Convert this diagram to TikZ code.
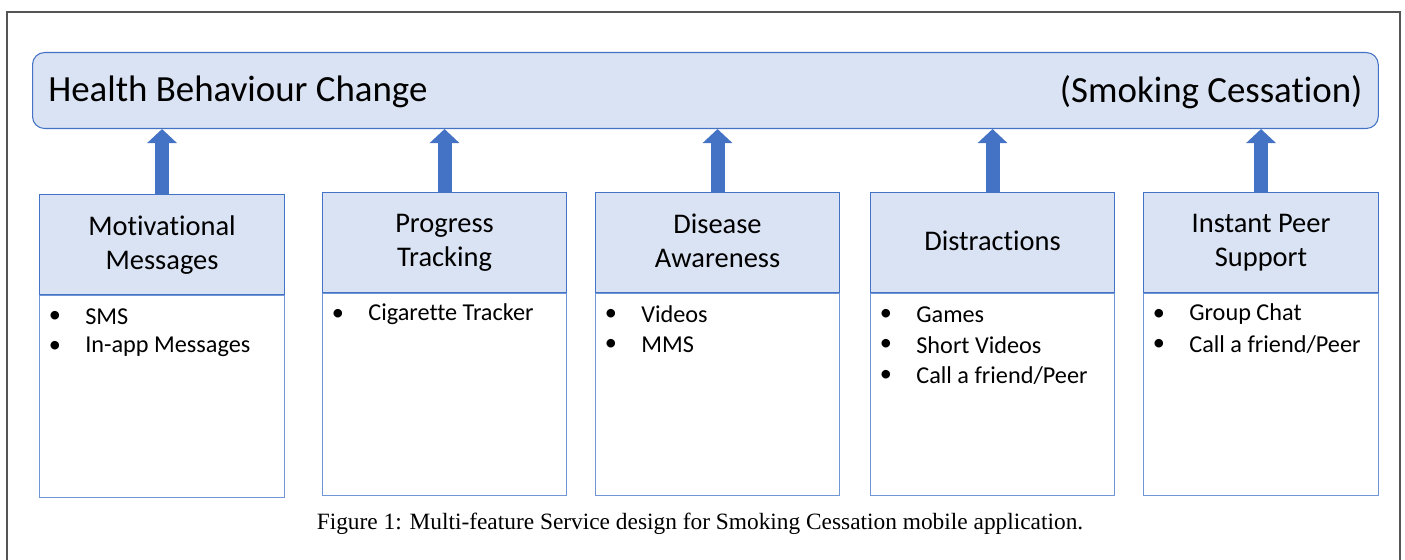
\documentclass[tikz,border=0pt]{standalone}
\usepackage{fontspec}
\setmainfont{Carlito}[Ligatures=NoCommon]
\newfontfamily\capfont{Liberation Serif}
\usetikzlibrary{arrows.meta,positioning}

\definecolor{boxfill}{HTML}{DAE3F3}
\definecolor{boxline}{HTML}{4472C4}
\definecolor{bodyline}{HTML}{7196D6}
\definecolor{framegray}{HTML}{555555}

\tikzset{
  goalbox/.style={draw=boxline, fill=boxfill, line width=0.6pt, rounded corners=0.24cm,
    minimum width=26.92cm, minimum height=1.52cm, inner sep=0},
  featbox/.style={draw=boxline, fill=boxfill, line width=0.6pt, align=center,
    minimum height=2cm, inner sep=0, text depth=0.08cm, font=\fontsize{16.2}{19.5}\selectfont},
  bodybox/.style={draw=bodyline, line width=0.8pt, minimum height=4.04cm, inner sep=0},
  itemtext/.style={inner sep=0, font=\fontsize{13.8}{16}\selectfont},
  uparrow/.style={draw=boxline, line width=0.28cm, -{Triangle[width=0.58cm, length=0.28cm]}}
}

\begin{document}
\begin{tikzpicture}[x=0.02cm, y=-0.02cm]
    % Picture size, one unit is one pixel
    \useasboundingbox (0,0) rectangle (1405,560);

    % Outer frame (open at the bottom)
    \draw[framegray, line width=0.6pt] (7,560) -- (7,12) -- (1400,12) -- (1400,560);

    % Goal on top
    \node[goalbox, anchor=north west] (goal) at (32,52) {};
    \node[anchor=west, inner sep=0, font=\fontsize{21}{24}\selectfont] (hbc) at ([xshift=0.32cm, yshift=-0.03cm]goal.west) {Health Behaviour Change};
    \node[anchor=east, inner sep=0, font=\fontsize{21}{24}\selectfont] (sc) at ([xshift=-0.32cm, yshift=-0.03cm]goal.east) {(Smoking Cessation)};

    % Feature boxes: number / left / top / width / title / items
    \foreach \n/\xl/\yt/\w/\title/\items in {
        1/39/194/245/{Motivational\\Messages}/{SMS,In-app Messages},
        2/322/192/244/{Progress\\Tracking}/{Cigarette Tracker},
        3/595/192/244/{Disease\\Awareness}/{Videos,MMS},
        4/870/192/244/{Distractions}/{Games,Short Videos,Call a friend/Peer},
        5/1143/192/235/{Instant Peer\\Support}/{Group Chat,Call a friend/Peer}}{
      \node[featbox, minimum width=\w*0.02cm, anchor=north west] (f\n) at (\xl,\yt) {\title};
      \node[bodybox, minimum width=\w*0.02cm, below=0pt of f\n] (b\n) {};

      % Bullet list inside the body
      \foreach \it [count=\k] in \items {
        \pgfmathsetmacro{\yy}{\yt+100+22.5+30.5*(\k-1)} % line centre
        \node[itemtext] (dot\n\k) at (\xl+16,\yy) {\textbullet};
        \node[itemtext, anchor=west] (item\n\k) at (\xl+46,\yy) {\it};
      }

      % Arrow up to the goal
      \draw[uparrow] (f\n.north) -- (f\n.north |- goal.south);
    }

    % Caption
    \node[font=\capfont\fontsize{13.3}{15}\selectfont] (cap) at (700,524)
      {Figure 1: Multi-feature Service design for Smoking Cessation mobile application.};
\end{tikzpicture}
\end{document}
